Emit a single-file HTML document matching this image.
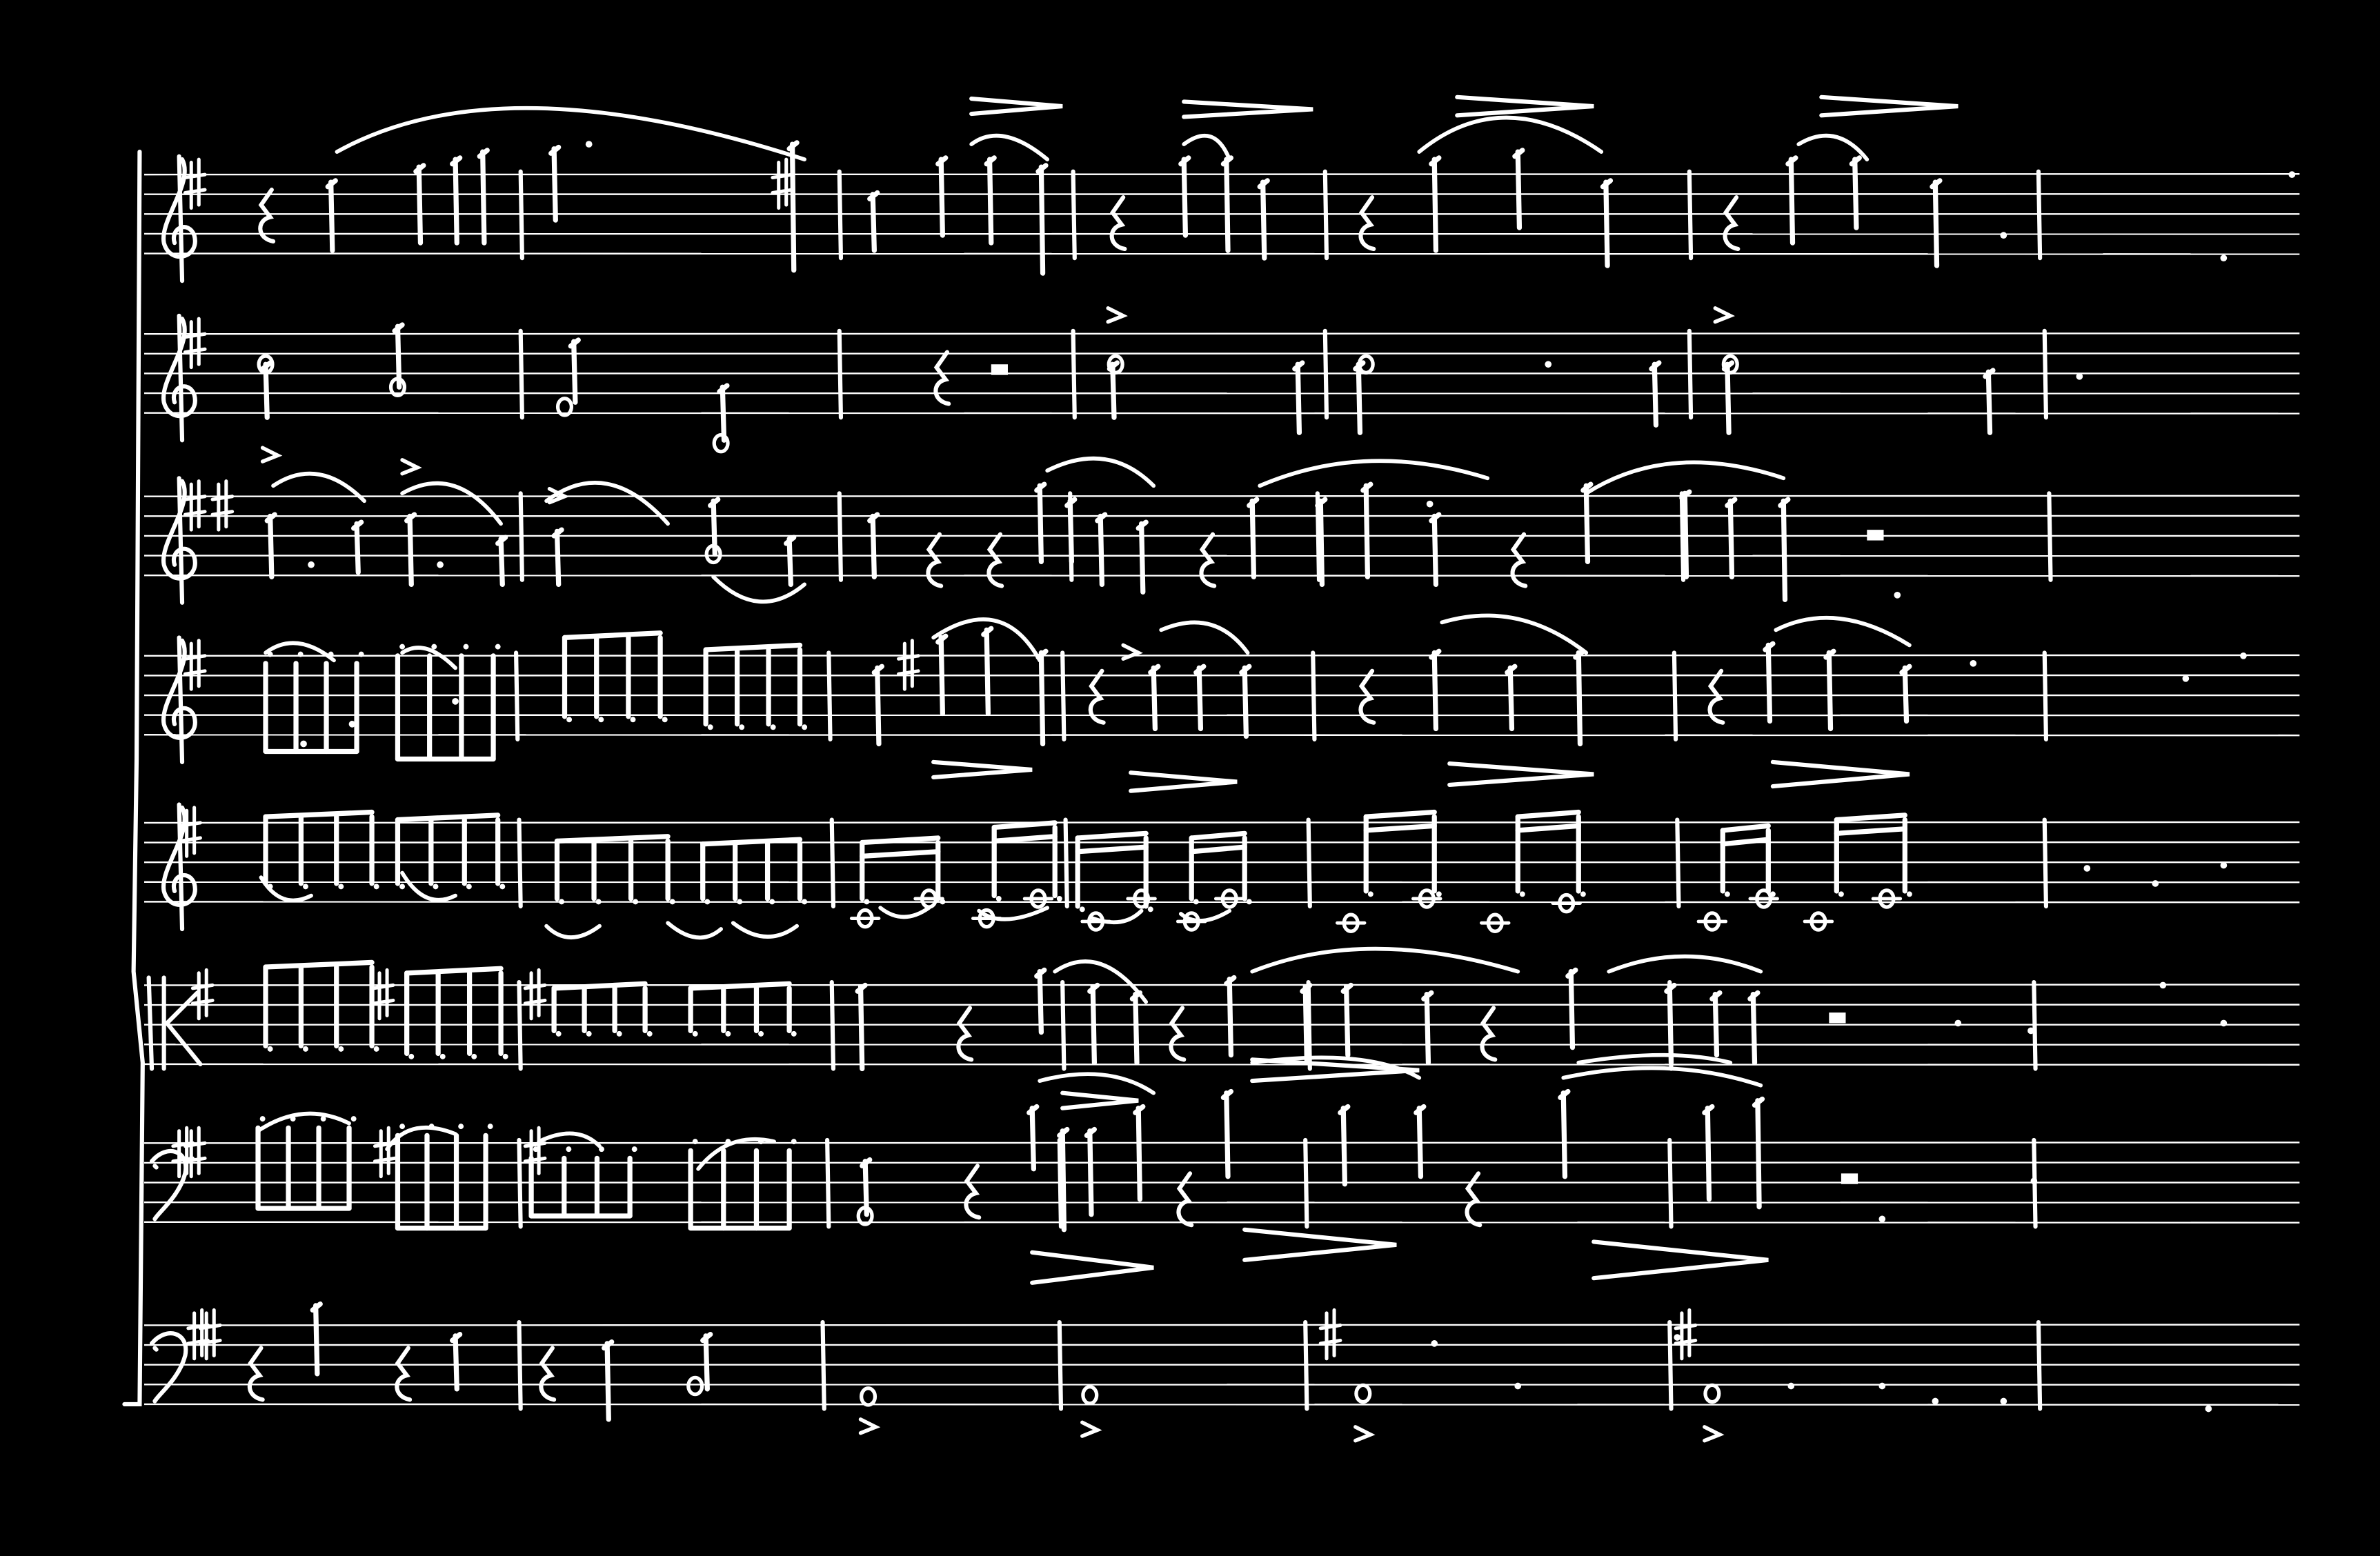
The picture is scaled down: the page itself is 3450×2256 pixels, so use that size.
<!DOCTYPE html>
<html><head><meta charset="utf-8"><style>
html,body{margin:0;padding:0;background:#000;}
svg{display:block;}
</style></head><body>
<svg id="score" width="3450" height="2256" viewBox="0 0 1568 1025" preserveAspectRatio="none" xmlns="http://www.w3.org/2000/svg" style="background:#000">
<g id="staves"></g>
<g id="marks" fill="none" stroke="#fff" stroke-width="3.3" stroke-linecap="round"></g>
</svg>
<script>
const staffTops=[115,220,327,432,542,649,753,873];
const staffGap=13;
const barlines=[
 [343,553,707,873,1113,1343],
 [343,553,707,873,1113,1347],
 [343,553,705,868,1108,1350],
 [340,546,700,865,1103,1347],
 [342,548,702,862,1105,1347],
 [342,548,700,862,1100,1340],
 [342,545,698,860,1100,1340],
 [342,542,698,860,1100,1343]
];
const stems=[
 [0,218,5,50],[0,276,-5,45],[0,300,-10,45],[0,318,-15,45],[0,365,-17,30],[0,522,-20,63],
 [0,575,13,50],[0,620,-10,40],[0,652,-10,45],[0,686,-5,65],[0,780,-10,40],[0,808,-10,50],[0,832,5,55],
 [0,945,-10,50],[0,1000,-15,35],[0,1058,5,60],[0,1180,-10,45],[0,1222,-10,35],[0,1275,5,60],
 [1,175,20,55],[1,262,-5,35],[1,378,5,45],[1,476,35,70],[1,733,20,55],[1,855,20,65],[1,895,20,65],[1,1090,20,60],[1,1138,20,65],[1,1310,25,65],
 [2,178,13,53],[2,235,18,50],[2,270,13,58],[2,330,28,58],[2,367,23,58],[2,470,3,38],[2,520,28,58],[2,575,13,53],
 [2,685,-7,43],[2,705,3,43],[2,725,13,58],[2,752,18,63],[2,825,3,53],[2,870,3,58],[2,900,-7,53],[2,945,13,58],[2,1045,-7,43],[2,1110,-2,53],[2,1140,3,53],[2,1175,3,68],
 [3,578,8,58],[3,620,-12,38],[3,650,-17,38],[3,686,-2,58],[3,760,8,48],[3,790,8,48],[3,820,8,53],[3,945,-2,48],[3,995,8,48],[3,1040,-2,58],[3,1165,-7,43],[3,1205,-2,48],[3,1255,8,43],
 [5,567,1,55],[5,685,-9,31],[5,720,1,51],[5,748,6,51],[5,810,-4,46],[5,860,1,51],[5,887,1,46],[5,940,6,51],[5,1035,-9,41],[5,1100,1,51],[5,1130,6,46],[5,1155,6,51],
 [6,570,12,47],[6,680,-23,17],[6,700,-8,57],[6,718,-8,47],[6,750,-23,37],[6,808,-33,22],[6,885,-23,27],[6,935,-23,22],[6,1030,-33,22],[6,1125,-23,37],[6,1158,-28,42],
 [7,208,-13,32],[7,300,7,42],[7,400,12,62],[7,465,7,42]
];
const beams=[
 [3,175,235,4,5,63,1],[3,262,325,4,0,68,1],[3,372,435,4,-12,40,0],[3,465,527,4,-4,45,0],
 [4,175,245,4,-4,40,0],[4,262,328,4,-2,40,0],[4,367,440,4,12,50,0],[4,463,527,4,14,50,0],
 [4,568,618,2,13,50,0],[4,655,695,2,3,48,0],[4,710,755,2,10,55,0],[4,785,820,2,10,50,0],
 [4,900,945,2,-4,45,0],[4,1000,1040,2,-4,45,0],[4,1135,1165,2,5,45,0],[4,1210,1255,2,-2,45,0],
 [5,175,245,4,-12,40,0],[5,268,330,4,-8,45,0],[5,365,425,4,2,30,0],[5,455,520,4,2,30,0],
 [6,170,230,4,-10,43,1],[6,262,320,4,-5,56,1],[6,350,415,4,10,48,1],[6,455,520,4,5,56,1]
];
const dots=[[0,1320,40],[0,1465,55],[0,1510,0],[0,388,-20],[1,1370,28],[1,1020,20],[2,205,45],[2,290,45],[2,942,5],[2,1250,65],
 [3,200,58],[3,232,45],[3,300,30],[3,1300,5],[3,1440,15],[3,1478,0],[4,1375,30],[4,1420,40],[4,1465,28],
 [5,1290,25],[5,1338,30],[5,1425,0],[5,1465,25],[6,1340,25],[6,1240,50],[7,1000,40],[7,1240,40],[7,1275,50],[7,1320,50],[7,1455,55],[7,1180,40],[7,945,12],[7,1105,8]];
const wholes=[[1,175,20],[1,262,35],[1,372,48],[1,475,72],[1,735,20],[1,900,20],[1,1140,20],[2,470,38],
 [4,570,63],[4,612,50],[4,650,63],[4,684,50],[4,722,65],[4,752,50],[4,785,65],[4,810,50],
 [4,890,66],[4,940,50],[4,985,66],[4,1032,53],[4,1128,65],[4,1162,50],[4,1198,65],[4,1243,50],
 [6,570,48],[7,458,40],[7,572,47],[7,718,46],[7,898,45],[7,1128,45]];
const rests=[[0,175,10],[0,736,15],[0,900,15],[0,1140,15],[1,620,12],[2,615,25],[2,655,25],[2,795,25],[2,1000,25],
 [3,722,10],[3,900,10],[3,1130,10],[5,635,15],[5,980,15],[5,775,15],[6,640,15],[6,780,20],[6,970,20],[7,168,15],[7,265,15],[7,360,15]];
const slurs=[[222,100,330,40,530,105],[640,95,660,80,690,105],[780,95,800,80,810,105],[935,100,990,55,1055,100],[1185,95,1210,80,1230,105],
 [690,310,730,290,760,320],[830,320,900,290,980,315],[1045,325,1100,290,1175,315],[180,320,210,300,240,330],[265,325,300,305,330,345],[360,330,400,300,440,345],[470,380,500,410,530,385],
 [175,430,195,415,220,435],[265,430,280,420,300,440],[615,420,660,390,685,435],[765,415,800,400,822,430],[950,410,1000,395,1045,430],[1170,415,1210,395,1258,425],
 [172,578,185,600,205,590],[265,575,280,600,300,590],[360,610,375,625,395,610],[440,608,460,625,475,612],[483,608,505,625,525,610],
 [580,598,595,610,612,598],[645,600,660,612,690,598],[720,605,740,612,752,600],[778,602,790,612,810,600],
 [695,640,725,620,755,660],[825,640,900,610,1000,640],[1060,640,1110,620,1160,640],
 [170,745,200,725,230,740],[355,752,380,740,395,755],[460,770,480,745,510,752],[255,757,270,735,300,747],
 [685,712,730,700,760,720],[825,700,900,690,935,710],[1030,710,1100,695,1160,715],[1040,700,1100,690,1140,700]];
const hairpins=[[640,70,700,5],[780,72,865,5],[960,70,1050,6],[1200,70,1290,6],[615,507,680,5],[745,515,815,6],[955,510,1050,7],[1168,510,1258,8],
 [680,835,760,10],[820,820,920,10],[1050,830,1165,12],[700,725,750,5],[825,705,935,7]];
const accents=[[735,208],[1135,208],[178,300],[270,308],[367,327],[572,940],[718,942],[898,945],[1128,945],[745,430]];
const sharps=[[0,128],[1,128],[2,128],[2,146],[3,128],[4,125],[5,133],[6,120],[6,128],[7,130],[7,138],[0,515],[7,876],[7,1110],[5,252],[5,352],[6,352],[6,253],[3,598]];
</script>
<script>
const NS='http://www.w3.org/2000/svg';
const stG=document.getElementById('staves');
const mk=document.getElementById('marks');
function el(tag,attrs,parent){const e=document.createElementNS(NS,tag);for(const k in attrs)e.setAttribute(k,attrs[k]);(parent||mk).appendChild(e);return e;}
staffTops.forEach((t,i)=>{
  for(let l=0;l<5;l++){
    const ln=el('line',{x1:95,x2:1515,y1:t+l*staffGap,y2:t+l*staffGap+(l-2)*0.2,stroke:'#fff','stroke-width':1.1},stG);
    
    
  }
  barlines[i].forEach(x=>{
    const b=el('line',{x1:x,x2:x+1,y1:t-2,y2:t+4*staffGap+3,'stroke-width':2.8});
    
    
  });
  const y=t;
  let c;
  if(i<5){
    c=el('path',{d:`M${118} ${y-12} L${120} ${y+70} M${120} ${y-10} C${128} ${y+5} ${105} ${y+30} ${108} ${y+45} C${112} ${y+60} ${132} ${y+55} ${128} ${y+40} C${124} ${y+30} ${112} ${y+35} ${115} ${y+45}`,'stroke-width':2.8});
  } else if(i===5){
    c=el('path',{d:`M98 ${y-5} L100 ${y+55} M108 ${y-5} L108 ${y+55} M110 ${y+25} L130 ${y+5} M110 ${y+25} L132 ${y+52}`,'stroke-width':2.8});
  } else {
    c=el('path',{d:`M100 ${y+12} C110 ${y} 125 ${y+5} 122 ${y+20} C118 ${y+35} 105 ${y+45} 102 ${y+50} M102 ${y+15} L103 ${y+16}`,'stroke-width':2.8});
  }
  
  
});
const sys=el('path',{d:'M92 100 L90 500 L88 640 L94 700 L92 925 L82 925','stroke-width':2.8});


sharps.forEach(s=>{
  const t=staffTops[s[0]],x=s[1];
  const p=el('path',{d:`M${x-2} ${t-8} L${x-2} ${t+22} M${x+3} ${t-10} L${x+3} ${t+20} M${x-6} ${t+2} L${x+7} ${t} M${x-6} ${t+12} L${x+7} ${t+10}`,'stroke-width':2.3});
  
  
});
stems.forEach(s=>{
  const t=staffTops[s[0]];
  const l=el('line',{x1:s[1],x2:s[1]+1,y1:t+s[2],y2:t+s[3]});
  
  
  const h=el('line',{x1:s[1]-2,x2:s[1]+3,y1:t+s[2]+3,y2:t+s[2]-1});
  
  
});
beams.forEach(b=>{
  const t=staffTops[b[0]],n=b[3];
  const g=el('g',{});
  
  
  for(let k=0;k<n;k++){
    const x=b[1]+(b[2]-b[1])*k/(n-1);
    el('line',{x1:x,x2:x,y1:t+b[4],y2:t+b[5]},g);
    el('circle',{cx:x+3,cy:t+(b[6]?b[4]:b[5])-(b[6]?6:-2),r:1.8,fill:'#fff','stroke-width':0},g);
  }
  const by=t+(b[6]?b[5]:b[4]);
  el('line',{x1:b[1],x2:b[2],y1:by,y2:by-(b[6]?0:3)},g);
  if(n===2) el('line',{x1:b[1],x2:b[2],y1:by+9,y2:by+6},g);
});
dots.forEach(d=>{
  const c=el('circle',{cx:d[1],cy:staffTops[d[0]]+d[2],r:2.2,fill:'#fff','stroke-width':0});
  
  
});
wholes.forEach(w=>{
  const c=el('ellipse',{cx:w[1],cy:staffTops[w[0]]+w[2],rx:4.5,ry:5.5,'stroke-width':2.4});
  
  
  if(w[0]===4){const l=el('line',{x1:w[1]-9,x2:w[1]+9,y1:staffTops[w[0]]+w[2],y2:staffTops[w[0]]+w[2],'stroke-width':2.2});
    }
});
rests.forEach(r=>{
  const x=r[1],y=staffTops[r[0]]+r[2];
  const p=el('path',{d:`M${x+4} ${y} L${x-3} ${y+10} L${x+3} ${y+18} C${x-6} ${y+20} ${x-6} ${y+32} ${x+5} ${y+34}`,'stroke-width':2.8});
  
  
});
slurs.forEach(s=>{
  const p=el('path',{d:`M${s[0]} ${s[1]} Q${s[2]} ${s[3]} ${s[4]} ${s[5]}`,'stroke-width':2.6});
  
  
});
hairpins.forEach(h=>{
  const p=el('path',{d:`M${h[0]} ${h[1]-h[3]} L${h[2]} ${h[1]} L${h[0]} ${h[1]+h[3]}`,'stroke-width':2.8});
  
  
});
accents.forEach(a=>{
  const p=el('path',{d:`M${a[0]-5} ${a[1]-5} L${a[0]+5} ${a[1]} L${a[0]-5} ${a[1]+4}`,'stroke-width':2.5});
  
  
});
[[1,658,243],[2,1235,352],[5,1210,670],[6,1218,776]].forEach(b=>{
  const r=el('rect',{x:b[1]-5,y:b[2]-3,width:11,height:7,fill:'#fff','stroke-width':0});
  
  
});
</script>
</body></html>
